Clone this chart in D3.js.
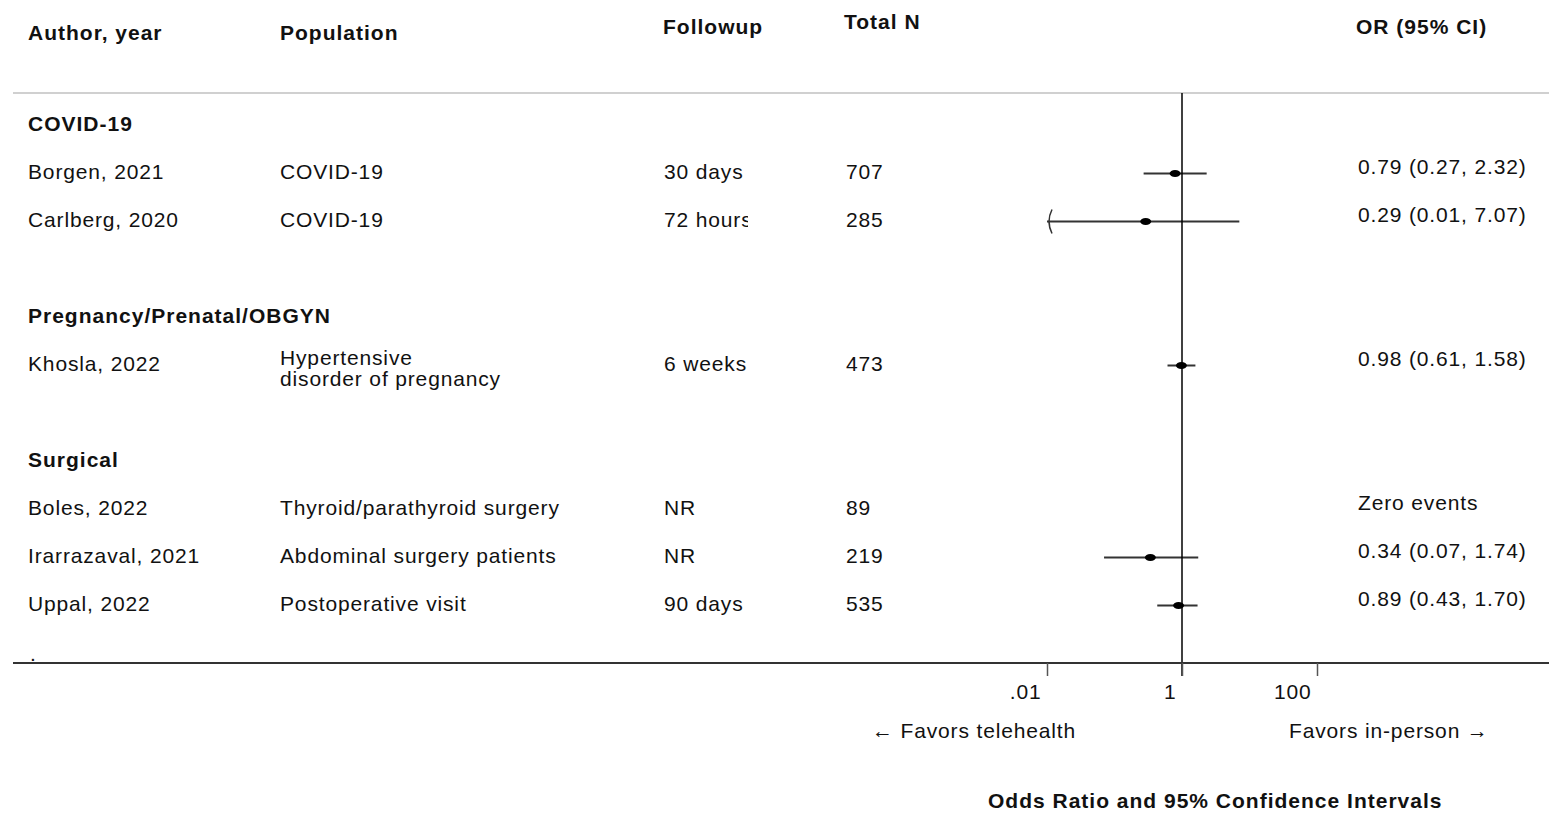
<!DOCTYPE html>
<head>
  <meta charset="utf-8">
  <style>
  body{
    margin:0;
    background:white;
    font-family: "Liberation Sans", Arial, sans-serif;
  }
  svg text{
    fill:#111;
    font-size:21px;
    letter-spacing:0.85px;
  }
  .head{
    font-weight:bold;
    letter-spacing:1px;
  }
  </style>
</head>
<body>
  <svg width="1549" height="814"></svg>
  <script src="https://d3js.org/d3.v7.min.js"></script>
  <script>

  // data
  var groups = ["COVID-19", "Pregnancy/Prenatal/OBGYN", "Surgical"];
  var studyGroup = [0, 0, 1, 2, 2, 2];
  var authors = ["Borgen, 2021", "Carlberg, 2020", "Khosla, 2022", "Boles, 2022", "Irarrazaval, 2021", "Uppal, 2022"];
  var populations = ["COVID-19", "COVID-19", "Hypertensive|disorder of pregnancy", "Thyroid/parathyroid surgery", "Abdominal surgery patients", "Postoperative visit"];
  var followups = ["30 days", "72 hours", "6 weeks", "NR", "NR", "90 days"];
  var totalN = [707, 285, 473, 89, 219, 535];
  var oddsRatio = [0.79, 0.29, 0.98, null, 0.34, 0.89];
  var lower = [0.27, 0.01, 0.61, null, 0.07, 0.43];
  var upper = [2.32, 7.07, 1.58, null, 1.74, 1.70];
  var tickValues = [0.01, 1, 100];
  var tickLabels = [".01", "1", "100"];

  var svg = d3.select("svg");

  // build the row list: group header, its studies, blank row between groups
  var rows = [];
  groups.forEach(function(g, gi) {
    if (gi > 0) rows.push({type: "blank"});
    rows.push({type: "group", label: g});
    studyGroup.forEach(function(sg, i) {
      if (sg === gi) rows.push({type: "study", i: i});
    });
  });

  var y = d3.scaleLinear().domain([0, rows.length - 1]).range([124, 604]);
  var x = d3.scaleLog().domain([0.01, 100]).range([1047, 1317]);

  var col = {author: 28, pop: 280, follow: 664, n: 846, or: 1358};

  // headers
  var heads = [
    {t: "Author, year", x: 28, y: 40},
    {t: "Population", x: 280, y: 40},
    {t: "Followup", x: 663, y: 34},
    {t: "Total N", x: 844, y: 29},
    {t: "OR (95% CI)", x: 1356, y: 34}
  ];
  svg.selectAll(".colhead").data(heads).enter().append("text")
      .attr("class", "head")
      .attr("x", function(d) { return d.x; })
      .attr("y", function(d) { return d.y; })
      .text(function(d) { return d.t; });

  svg.append("line")
      .attr("x1", 13).attr("x2", 1549).attr("y1", 93).attr("y2", 93)
      .attr("stroke", "#d0d0d0").attr("stroke-width", 2);

  // clip for followup column ("72 hours" is cut in the original)
  svg.append("clipPath").attr("id", "followclip")
    .append("rect").attr("x", col.follow - 2).attr("y", 0).attr("width", 86).attr("height", 814);

  rows.forEach(function(r, ri) {
    var yy = y(ri);
    if (r.type === "group") {
      svg.append("text").attr("class", "head")
          .attr("x", col.author).attr("y", yy + 7).text(r.label);
    } else if (r.type === "study") {
      var i = r.i;
      svg.append("text").attr("x", col.author).attr("y", yy + 7).text(authors[i]);
      var pl = populations[i].split("|");
      var pt = svg.append("text").attr("x", col.pop).attr("y", yy + 7 - (pl.length > 1 ? 6 : 0));
      pl.forEach(function(s, k) {
        pt.append("tspan").attr("x", col.pop).attr("dy", k ? 21 : 0).text(s);
      });
      svg.append("text").attr("x", col.follow).attr("y", yy + 7)
          .attr("clip-path", "url(#followclip)").text(followups[i]);
      svg.append("text").attr("x", col.n).attr("y", yy + 7).text(totalN[i]);
      var lab = oddsRatio[i] == null ? "Zero events"
          : d3.format(".2f")(oddsRatio[i]) + " (" + d3.format(".2f")(lower[i]) + ", " + d3.format(".2f")(upper[i]) + ")";
      svg.append("text").attr("x", col.or).attr("y", yy + 2).text(lab);

      if (oddsRatio[i] != null) {
        var cy = yy + 1.5;
        svg.append("line")
            .attr("x1", x(lower[i])).attr("x2", x(upper[i]))
            .attr("y1", cy).attr("y2", cy)
            .attr("stroke", "#333").attr("stroke-width", 2);
        if (lower[i] <= x.domain()[0]) {
          var ax = x(lower[i]);
          svg.append("path")
              .attr("d", "M" + (ax + 5) + "," + (cy - 12) + "Q" + (ax - 1) + "," + cy + " " + (ax + 5) + "," + (cy + 12))
              .attr("fill", "none").attr("stroke", "#333").attr("stroke-width", 1.5);
        }
        svg.append("ellipse")
            .attr("cx", x(oddsRatio[i])).attr("cy", cy)
            .attr("rx", 5.5).attr("ry", 3.5)
            .attr("fill", "#000");
      }
    }
  });

  svg.append("text").attr("x", 30).attr("y", 661).text(".");

  // axis
  var axisY = 663;
  svg.append("line")
      .attr("x1", x(1)).attr("x2", x(1)).attr("y1", 93).attr("y2", axisY + 13)
      .attr("stroke", "#000").attr("stroke-width", 1.5);
  svg.append("line")
      .attr("x1", 13).attr("x2", 1549).attr("y1", axisY).attr("y2", axisY)
      .attr("stroke", "#333").attr("stroke-width", 2);

  var axis = d3.axisBottom(x).tickValues(tickValues).tickSize(13)
      .tickFormat(function(d, k) { return tickLabels[k]; });
  var ag = svg.append("g").attr("transform", "translate(0," + axisY + ")").call(axis);
  ag.select(".domain").remove();
  ag.selectAll(".tick line").attr("stroke", "#555").attr("stroke-width", 1.5);
  ag.selectAll(".tick text")
      .attr("font-family", null).attr("font-size", null)
      .attr("text-anchor", "end").attr("x", -6).attr("y", 29).attr("dy", "0.35em")
      .style("font-size", "21px").style("fill", "#111");

  svg.append("text").attr("x", 872).attr("y", 738).text("\u2190 Favors telehealth");
  svg.append("text").attr("x", 1289).attr("y", 738).text("Favors in-person \u2192");
  svg.append("text").attr("class", "head").attr("x", 988).attr("y", 808)
      .text("Odds Ratio and 95% Confidence Intervals");

  </script>
</body>
